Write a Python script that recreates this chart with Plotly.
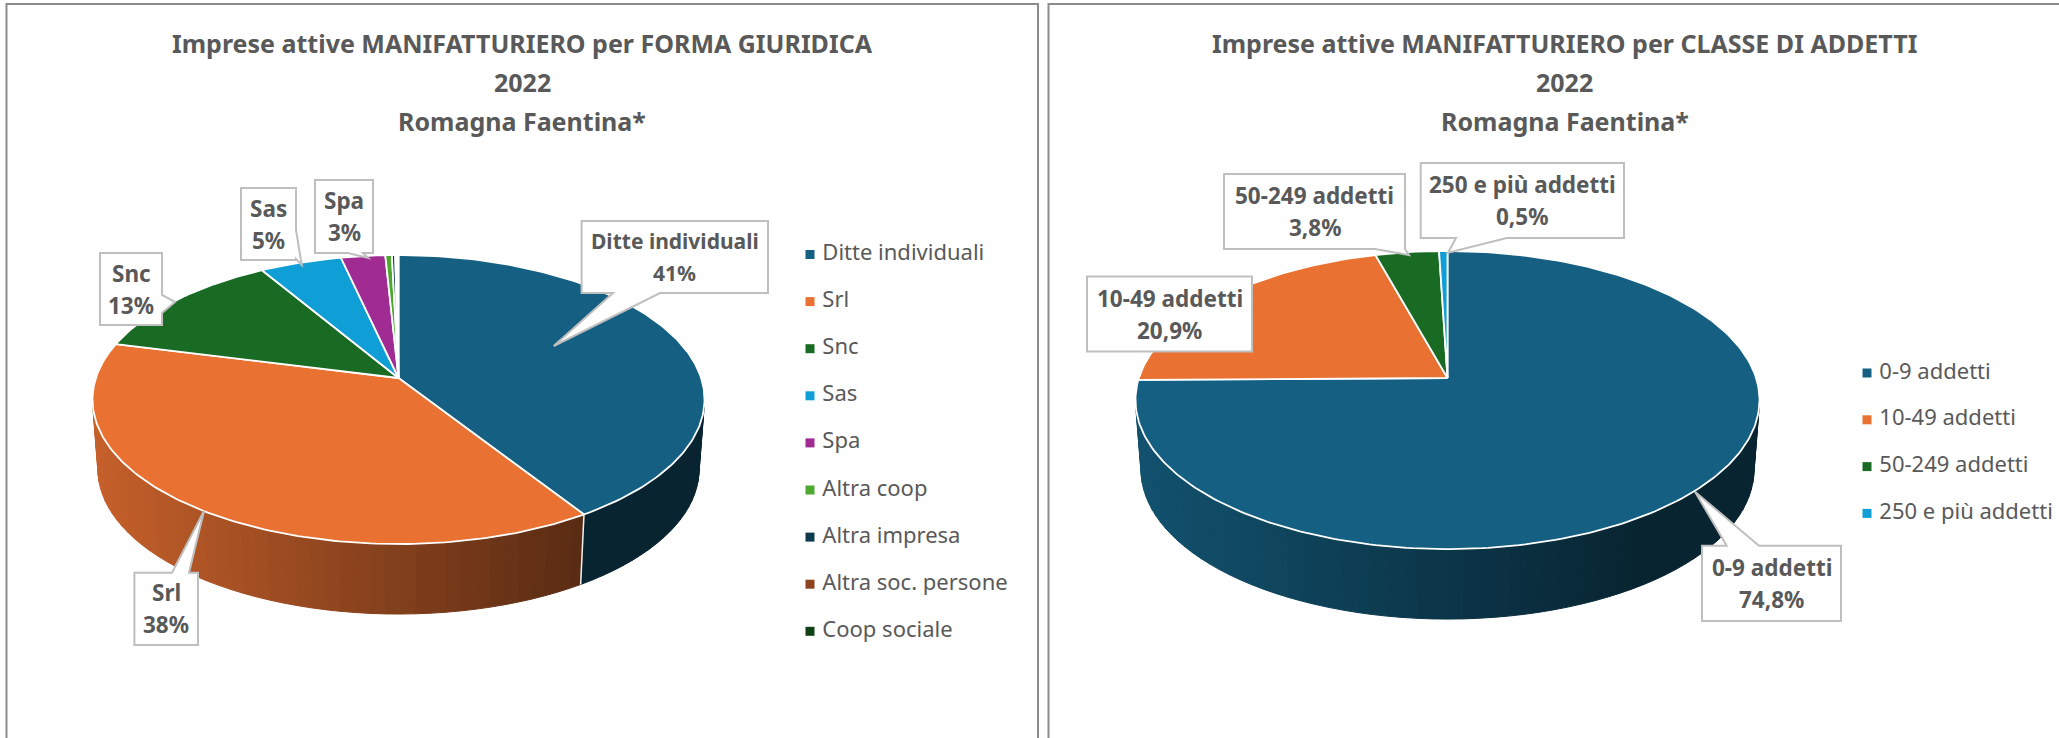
import math
import plotly.graph_objects as go

# ---------- data ----------
forma_categories = ["Ditte individuali", "Srl", "Snc", "Sas", "Spa", "Altra coop",
                    "Altra impresa", "Altra soc. persone", "Coop sociale"]
forma_values = [41.0, 38.0, 12.5, 5.0, 2.7, 0.4, 0.2, 0.1, 0.1]
forma_colors = ["#156082", "#E97132", "#196B24", "#0F9ED5", "#A02B93", "#4EA72E",
                "#0D3A4E", "#8B441E", "#0F4016"]

addetti_categories = ["0-9 addetti", "10-49 addetti", "50-249 addetti", "250 e più addetti"]
addetti_values = [74.8, 20.9, 3.8, 0.5]
addetti_colors = ["#156082", "#E97132", "#196B24", "#0F9ED5"]

title_left = ["Imprese attive MANIFATTURIERO per FORMA GIURIDICA", "2022", "Romagna Faentina*"]
title_right = ["Imprese attive MANIFATTURIERO per CLASSE DI ADDETTI", "2022", "Romagna Faentina*"]

# ---------- style / layout constants ----------
W, H = 2059, 738
GREY = "#595959"
FONT = "Noto Sans"
LEFT = dict(cx=398.5, y0=378, A=302.6, B=141.3, k=0.149, D=70, title_x=522, leg_mx=810, leg_y=254.5, leg_step=47.1)
RIGHT = dict(cx=1447.5, y0=378, A=308.6, B=145.8, k=0.1477, D=70, title_x=1564.5, leg_mx=1867, leg_y=373, leg_step=46.8)

fig = go.Figure()


def project(g, deg, drop=False):
    """Perspective projection of a point on the pie rim (clockwise from 12 o'clock)."""
    u, v = math.sin(math.radians(deg)), math.cos(math.radians(deg))
    w = 1 + g["k"] * v
    scale = 0.982 if drop else 1.0
    return (g["cx"] + g["A"] * u / w * scale,
            g["y0"] - g["B"] * v / w + (g["D"] if drop else 0))


def shade(hex_color, f):
    r, g, b = [int(hex_color[i:i + 2], 16) for i in (1, 3, 5)]
    return f"rgb({r * f:.0f},{g * f:.0f},{b * f:.0f})"


def poly(xs, ys, fill, line, width):
    fig.add_trace(go.Scatter(x=xs, y=ys, mode="lines", fill="toself", fillcolor=fill,
                             line=dict(color=line, width=width), hoverinfo="skip",
                             showlegend=False))


def draw_pie(g, values, colors):
    total = sum(values)
    spans, a = [], 0.0
    for val in values:
        b = a + val / total * 360
        spans.append((a, b))
        a = b
    half = g["A"] / math.sqrt(1 - g["k"] ** 2)
    edge = math.degrees(math.acos(-g["k"]))  # angle of the widest rim point
    # side wall: narrow strips, shaded left to right
    for (a, b), col in zip(spans, colors):
        lo, hi = max(a, edge), min(b, 360 - edge)
        if hi <= lo:
            continue
        n = max(1, math.ceil((hi - lo) / 2.5))
        for i in range(n):
            d0, d1 = lo + (hi - lo) * i / n, lo + (hi - lo) * (i + 1) / n
            p = [project(g, d0), project(g, d1), project(g, d1, True), project(g, d0, True)]
            t = (sum(q[0] for q in p) / 4 - (g["cx"] - half)) / (2 * half)
            f = 0.85 - t * (0.47 / 0.8) if t < 0.8 else 0.38
            c = shade(col, f)
            poly([q[0] for q in p] + [p[0][0]], [q[1] for q in p] + [p[0][1]], c, c, 1)
    # white seams on the wall
    for (a, b) in spans:
        if 100 < b < 260:
            p0, p1 = project(g, b), project(g, b, True)
            fig.add_trace(go.Scatter(x=[p0[0], p1[0]], y=[p0[1], p1[1]], mode="lines",
                                     line=dict(color="#F2F2F2", width=1.5),
                                     hoverinfo="skip", showlegend=False))
    # top face
    for (a, b), col in zip(spans, colors):
        n = max(2, math.ceil((b - a) / 1.0))
        pts = [project(g, a + (b - a) * i / n) for i in range(n + 1)]
        xs = [g["cx"]] + [q[0] for q in pts] + [g["cx"]]
        ys = [g["y0"]] + [q[1] for q in pts] + [g["y0"]]
        poly(xs, ys, col, "white", 1.8)


def draw_legend(g, categories, colors):
    fig.add_trace(go.Scatter(
        x=[g["leg_mx"]] * len(categories),
        y=[g["leg_y"] + i * g["leg_step"] for i in range(len(categories))],
        mode="markers+text", text=["\u00a0" + c for c in categories], textposition="middle right",
        textfont=dict(family=FONT, size=22, color=GREY),
        marker=dict(symbol="square", size=9, color=colors),
        hoverinfo="skip", showlegend=False))


def draw_title(g, lines):
    for line, y in zip(lines, (43, 82, 121)):
        fig.add_annotation(x=g["title_x"], y=y, text=f"<b>{line}</b>", showarrow=False,
                           xanchor="center", yanchor="middle",
                           font=dict(family=FONT, size=25, color=GREY))


def callout(box, label, value, side=None, base=None, tip=None, size=22.5):
    x0, y0, x1, y1 = box
    pts = [(x0, y0)]
    ptr = [] if tip is None else [base[0], tip, base[1]]
    if side == "top":
        pts += ptr
    pts.append((x1, y0))
    if side == "right":
        pts += ptr
    pts.append((x1, y1))
    if side == "bottom":
        pts += ptr
    pts.append((x0, y1))
    path = "M " + " L ".join(f"{px},{py}" for px, py in pts) + " Z"
    fig.add_shape(type="path", path=path, xref="x", yref="y", fillcolor="white",
                  line=dict(color="#BFBFBF", width=2))
    cx, cy = (x0 + x1) / 2, (y0 + y1) / 2
    for txt, y in ((label, cy - 16), (value, cy + 16)):
        fig.add_annotation(x=cx, y=y, text=f"<b>{txt}</b>", showarrow=False,
                           xanchor="center", yanchor="middle",
                           font=dict(family=FONT, size=size, color=GREY))


draw_pie(LEFT, forma_values, forma_colors)
draw_pie(RIGHT, addetti_values, addetti_colors)
draw_legend(LEFT, forma_categories, forma_colors)
draw_legend(RIGHT, addetti_categories, addetti_colors)
draw_title(LEFT, title_left)
draw_title(RIGHT, title_right)

# chart frames (open at the bottom, as cropped in the screenshot)
for x0, x1 in ((6.5, 1038), (1048.5, 2070)):
    fig.add_shape(type="rect", xref="x", yref="y", x0=x0, x1=x1, y0=4, y1=760,
                  line=dict(color="#8C8C8C", width=2), layer="below")

callout((581.6, 221, 768, 293), "Ditte individuali", "41%", "bottom", [(660, 293), (613, 293)], (553.7, 346), size=21)
callout((134.4, 572.7, 198, 645), "Srl", "38%", "top", [(172, 572.7), (189, 572.7)], (204, 511))
callout((100, 253, 162, 325), "Snc", "13%", "right", [(162, 295), (162, 313)], (175, 302))
callout((241, 188, 296, 260), "Sas", "5%", "right", [(296, 230), (296, 259)], (301.7, 265))
callout((315, 180, 373, 253), "Spa", "3%", "bottom", [(363, 253), (348, 253)], (368, 258))
callout((1702, 545.7, 1841, 621), "0-9 addetti", "74,8%", "top", [(1726.7, 545.7), (1759, 545.7)], (1695, 491.7))
callout((1087, 276.5, 1252, 351.5), "10-49 addetti", "20,9%")
callout((1224, 174, 1405, 249), "50-249 addetti", "3,8%", "bottom", [(1405, 249), (1375, 249)], (1409, 255))
callout((1420.7, 163, 1624, 238), "250 e più addetti", "0,5%", "bottom", [(1506.7, 238), (1456, 238)], (1448, 252.7))

fig.update_layout(
    width=W, height=H, autosize=False, showlegend=False,
    margin=dict(l=0, r=0, t=0, b=0), paper_bgcolor="white", plot_bgcolor="white",
    xaxis=dict(range=[0, W], visible=False, fixedrange=True),
    yaxis=dict(range=[H, 0], visible=False, fixedrange=True),
)
fig.write_html("out.html", config={"displayModeBar": False},
               post_script="document.body.style.margin='0';document.body.style.overflow='hidden';")
